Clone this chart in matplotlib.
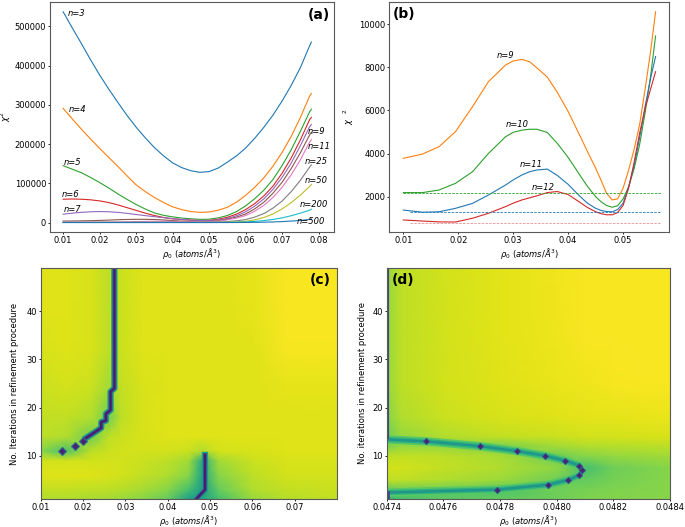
import numpy as np
import matplotlib as mpl
mpl.use('Agg')
import matplotlib.pyplot as plt

plt.rcParams['font.family'] = 'DejaVu Sans'
plt.rcParams['font.size'] = 6
plt.rcParams['axes.linewidth'] = 0.8
plt.rcParams['axes.edgecolor'] = '0.35'
plt.rcParams['xtick.major.size'] = 1.6
plt.rcParams['ytick.major.size'] = 1.6
plt.rcParams['xtick.major.pad'] = 1.2
plt.rcParams['ytick.major.pad'] = 1.2
plt.rcParams['xtick.major.width'] = 0.6
plt.rcParams['ytick.major.width'] = 0.6

# ---- panel (a): chi^2 vs rho0 for several n ----
xa = [0.0100, 0.0125, 0.0150, 0.0175, 0.0200, 0.0225, 0.0250, 0.0275, 0.0300, 0.0325,
      0.0350, 0.0375, 0.0400, 0.0425, 0.0450, 0.0475, 0.0500, 0.0525, 0.0550, 0.0575,
      0.0600, 0.0625, 0.0650, 0.0675, 0.0700, 0.0725, 0.0750, 0.0775, 0.0780]
a_n3 = [537000, 496000, 456000, 415000, 376000, 340000, 306000, 273000, 243000, 216000,
        191000, 170000, 152000, 140000, 132000, 128000, 130000, 139000, 154000, 170000,
        190000, 215000, 243000, 274000, 310000, 350000, 395000, 450000, 460000]
a_n4 = [291000, 264000, 238000, 213000, 189000, 166000, 143000, 119000, 96000, 79000,
        64000, 51000, 40000, 33000, 28000, 26000, 27000, 31500, 39000, 52000,
        69500, 90000, 114000, 144000, 179000, 220000, 268000, 322000, 329000]
a_n5 = [145000, 136000, 127000, 115000, 102000, 88000, 73000, 59000, 46000, 34500,
        24500, 18500, 14500, 11500, 9500, 8200, 8500, 12000, 18000, 28000,
        42600, 61000, 82700, 110000, 145500, 186000, 232700, 282000, 289000]
a_n6 = [59500, 60000, 59500, 58000, 55200, 51000, 45000, 38000, 31000, 24000,
        18000, 13000, 9500, 7500, 6000, 5100, 5500, 8500, 13500, 21500,
        33000, 48500, 68000, 93000, 126000, 165000, 211000, 262000, 268000]
a_n7 = [21300, 24000, 26000, 27500, 28000, 27500, 26000, 23500, 20500, 17700,
        15000, 12500, 10000, 8000, 6500, 5200, 5000, 7000, 10500, 17500,
        27500, 42000, 60500, 85000, 115300, 152000, 196000, 244000, 250000]
a_n9 = [3800, 4000, 4300, 4800, 5500, 6300, 7200, 7900, 8300, 8300,
        7800, 6600, 5000, 3600, 2500, 1900, 2500, 4500, 8500, 14000,
        22000, 35000, 52000, 75000, 103000, 138000, 178000, 223000, 230000]
a_n11 = [1400, 1350, 1300, 1300, 1350, 1500, 1700, 2050, 2500, 2900,
         3200, 3200, 2900, 2300, 1700, 1350, 1800, 3500, 7000, 11500,
         18000, 29000, 44000, 64000, 90000, 122000, 160000, 205000, 211000]
a_n25 = [500, 500, 500, 500, 500, 500, 500, 550, 600, 600,
         600, 550, 500, 450, 400, 400, 600, 1200, 2500, 4500,
         7500, 14000, 23000, 37000, 55000, 79000, 108000, 141000, 147000]
a_n50 = [300, 300, 300, 300, 300, 300, 300, 300, 300, 300,
         300, 300, 300, 300, 300, 300, 300, 500, 800, 1600,
         3000, 7000, 13000, 22000, 35000, 51000, 70000, 92000, 97000]
a_n200 = [200, 200, 200, 200, 200, 200, 200, 200, 200, 200,
          200, 200, 200, 200, 200, 200, 200, 250, 300, 700,
          1500, 3000, 5000, 8000, 12000, 17500, 24000, 31500, 34000]
a_n500 = [100, 100, 100, 100, 100, 100, 100, 100, 100, 100,
          100, 100, 100, 100, 100, 100, 100, 100, 100, 200,
          300, 600, 1000, 1600, 2500, 3800, 5500, 8000, 9000]
a_series = [a_n3, a_n4, a_n5, a_n6, a_n7, a_n9, a_n11, a_n25, a_n50, a_n200, a_n500]
a_names = ['n=3', 'n=4', 'n=5', 'n=6', 'n=7', 'n=9', 'n=11', 'n=25', 'n=50', 'n=200', 'n=500']

# ---- panel (b): zoom on n=9..12 ----
xb = [0.0100, 0.0135, 0.0165, 0.0195, 0.0226, 0.0255, 0.0286, 0.0300, 0.0316, 0.0330,
      0.0343, 0.0362, 0.0380, 0.0400, 0.0420, 0.0435, 0.0450, 0.0460, 0.0470, 0.0480,
      0.0490, 0.0500, 0.0510, 0.0520, 0.0530, 0.0540, 0.0550, 0.0559]
b_n9 = [3780, 3980, 4320, 5020, 6180, 7340, 8110, 8300, 8370, 8260,
        7980, 7550, 6850, 5950, 4900, 4100, 3320, 2750, 2150, 1850,
        1900, 2400, 3240, 4200, 5350, 7000, 8750, 10580]
b_n10 = [2190, 2190, 2310, 2620, 3160, 4010, 4780, 4990, 5090, 5130,
         5130, 4980, 4480, 3820, 3050, 2480, 2000, 1760, 1590, 1510,
         1580, 1900, 2460, 3300, 4420, 5900, 7600, 9460]
b_n11 = [1380, 1280, 1300, 1460, 1690, 2080, 2540, 2780, 3010, 3160,
         3240, 3280, 2990, 2570, 2050, 1700, 1460, 1360, 1310, 1300,
         1400, 1700, 2450, 3450, 4750, 6200, 7500, 8500]
b_n12 = [920, 870, 830, 825, 1000, 1230, 1540, 1700, 1850, 1950,
         2040, 2190, 2240, 2100, 1760, 1500, 1300, 1210, 1160, 1160,
         1260, 1600, 2400, 3600, 4950, 6100, 7000, 7800]
b_series = [b_n9, b_n10, b_n11, b_n12]
b_names = ['n=9', 'n=10', 'n=11', 'n=12']
b_colors = ['C1', 'C2', 'C0', 'C3']
b_ref_levels = [2186, 1290, 794]
b_ref_start = [0.0100, 0.0112, 0.0112]
b_ref_end = 0.0569

# ---- panel (c): normalised map, coarse grid ----
xc = [0.010, 0.016, 0.022, 0.026, 0.029, 0.034, 0.040, 0.045, 0.048, 0.052, 0.060, 0.068, 0.080]
yc = [1, 3, 6, 9, 11, 14, 18, 24, 32, 40, 49]
zc = [
    [0.88, 0.88, 0.87, 0.86, 0.85, 0.82, 0.76, 0.55, 0.58, 0.70, 0.84, 0.89, 0.91],
    [0.91, 0.91, 0.90, 0.90, 0.89, 0.87, 0.82, 0.70, 0.55, 0.76, 0.88, 0.91, 0.92],
    [0.95, 0.95, 0.95, 0.94, 0.93, 0.91, 0.88, 0.82, 0.60, 0.82, 0.90, 0.93, 0.93],
    [0.93, 0.93, 0.93, 0.93, 0.93, 0.92, 0.90, 0.86, 0.62, 0.86, 0.92, 0.94, 0.94],
    [0.82, 0.72, 0.90, 0.92, 0.93, 0.93, 0.93, 0.92, 0.88, 0.93, 0.94, 0.95, 0.95],
    [0.90, 0.88, 0.78, 0.90, 0.92, 0.94, 0.95, 0.95, 0.95, 0.95, 0.95, 0.95, 0.95],
    [0.91, 0.91, 0.88, 0.78, 0.90, 0.94, 0.95, 0.95, 0.95, 0.95, 0.95, 0.95, 0.95],
    [0.92, 0.93, 0.92, 0.86, 0.91, 0.94, 0.95, 0.95, 0.95, 0.95, 0.95, 0.96, 0.96],
    [0.94, 0.95, 0.94, 0.90, 0.92, 0.95, 0.95, 0.95, 0.95, 0.95, 0.95, 0.985, 0.985],
    [0.95, 0.95, 0.94, 0.90, 0.92, 0.95, 0.95, 0.95, 0.95, 0.95, 0.96, 0.99, 0.99],
    [0.95, 0.95, 0.94, 0.90, 0.92, 0.95, 0.95, 0.95, 0.95, 0.95, 0.96, 0.99, 0.99],
]
# minimum tracks in (c)
c_dot_x = [0.0150, 0.0182, 0.0200]
c_dot_y = [11, 12, 13]
c_up_x = [0.0207, 0.0233, 0.0243, 0.0243, 0.0254, 0.0254, 0.0265, 0.0265, 0.0274, 0.0274]
c_up_y = [13.7, 15.2, 15.8, 17.0, 17.3, 18.7, 19.5, 23.3, 24.0, 49.0]
c_low_x = [0.0467, 0.0488, 0.0488]
c_low_y = [1.0, 3.0, 10.2]

# ---- panel (d): zoom around rho0 = 0.048 ----
xd = [0.04740, 0.04745, 0.04760, 0.04780, 0.04800, 0.04810, 0.04820, 0.04840]
yd = [1, 2.5, 5, 7.5, 10, 12, 14, 18, 25, 35, 49]
zd = [
    [0.66, 0.70, 0.74, 0.76, 0.78, 0.80, 0.81, 0.82],
    [0.72, 0.75, 0.76, 0.72, 0.78, 0.80, 0.81, 0.82],
    [0.90, 0.90, 0.88, 0.85, 0.78, 0.76, 0.79, 0.82],
    [0.93, 0.93, 0.91, 0.88, 0.83, 0.70, 0.78, 0.82],
    [0.90, 0.91, 0.90, 0.87, 0.78, 0.82, 0.84, 0.86],
    [0.80, 0.84, 0.84, 0.80, 0.86, 0.88, 0.89, 0.90],
    [0.78, 0.84, 0.88, 0.91, 0.92, 0.93, 0.93, 0.94],
    [0.82, 0.88, 0.92, 0.94, 0.95, 0.96, 0.96, 0.97],
    [0.84, 0.90, 0.93, 0.95, 0.965, 0.975, 0.985, 0.99],
    [0.84, 0.90, 0.93, 0.955, 0.975, 0.99, 0.99, 0.99],
    [0.84, 0.90, 0.93, 0.955, 0.98, 0.99, 0.99, 0.99],
]
d_dot_x = [0.04754, 0.04773, 0.04786, 0.04796, 0.04803, 0.04808, 0.04809, 0.04808,
           0.04804, 0.04797, 0.04779]
d_dot_y = [13, 12, 11, 10, 9, 8, 7, 6, 5, 4, 3]
d_valley_x = [0.04740] + d_dot_x + [0.04740]
d_valley_y = [13.4] + d_dot_y + [2.4]

vir = plt.get_cmap('viridis')

fig = plt.figure(figsize=(6.85, 5.27), dpi=100)
ax_a = fig.add_axes([0.073, 0.5598, 0.4146, 0.4364])
ax_b = fig.add_axes([0.5683, 0.5598, 0.4088, 0.4364])
ax_c = fig.add_axes([0.0594, 0.0526, 0.4321, 0.4395])
ax_d = fig.add_axes([0.5645, 0.0526, 0.4136, 0.4395])

rho_label = r'$\rho_0\ (atoms/\AA^3)$'

# (a)
for i, ys in enumerate(a_series):
    ax_a.plot(xa, ys, color='C%d' % (i % 10), lw=0.8)
a_label_pos = [(0.0112, 533000), (0.0114, 287000), (0.0102, 153000), (0.0097, 70500),
               (0.0102, 34000), (0.0771, 231500), (0.0771, 193000), (0.0762, 155000),
               (0.0762, 106000), (0.0747, 47000), (0.0740, 2000)]
for name, (tx, ty) in zip(a_names, a_label_pos):
    ax_a.text(tx, ty, name, style='italic', ha='left', va='center', fontsize=6)
ax_a.set_xlim(0.0064, 0.0842)
ax_a.set_ylim(-24000, 562000)
ax_a.set_xticks([0.01, 0.02, 0.03, 0.04, 0.05, 0.06, 0.07, 0.08])
ax_a.set_xlabel(rho_label, labelpad=1)
ax_a.set_ylabel(r'$\chi^2$', labelpad=1)
ax_a.text(0.986, 0.975, '(a)', transform=ax_a.transAxes, ha='right', va='top',
          fontsize=10, fontweight='bold')

# (b)
for ys, col in zip(b_series, b_colors):
    ax_b.plot(xb, ys, color=col, lw=0.8)
for lvl, x0, col, al in zip(b_ref_levels, b_ref_start, ['C2', 'C0', 'C3'], [1, 1, 0.5]):
    ax_b.plot([x0, b_ref_end], [lvl, lvl], ls='--', lw=0.6, color=col, alpha=al,
              dashes=(3, 1.5))
b_label_pos = [(0.0270, 8575), (0.0287, 5327), (0.0312, 3517), (0.0334, 2418)]
for name, (tx, ty) in zip(b_names, b_label_pos):
    ax_b.text(tx, ty, name, style='italic', ha='left', va='center', fontsize=6)
ax_b.set_xlim(0.00745, 0.0584)
ax_b.set_ylim(362, 11035)
ax_b.set_xticks([0.01, 0.02, 0.03, 0.04, 0.05])
ax_b.set_yticks([2000, 4000, 6000, 8000, 10000])
ax_b.set_xlabel(rho_label, labelpad=1)
ax_b.set_ylabel(r'$\chi^{\ \ \ 2}$', labelpad=2)
ax_b.text(0.012, 0.98, '(b)', transform=ax_b.transAxes, ha='left', va='top',
          fontsize=10, fontweight='bold')

# (c)
ax_c.pcolormesh(xc, yc, zc, shading='gouraud', cmap='viridis', vmin=0, vmax=1)
for xs, ys in [(c_up_x, c_up_y), (c_low_x, c_low_y)]:
    ax_c.plot(xs, ys, color=vir(0.55), lw=4.5, solid_joinstyle='round')
    ax_c.plot(xs, ys, color=vir(0.28), lw=2.8, solid_joinstyle='round')
    ax_c.plot(xs, ys, color=vir(0.08), lw=1.6, solid_joinstyle='round')
ax_c.plot(c_dot_x, c_dot_y, 'D', ms=4.2, mfc=vir(0.1), mec=vir(0.35), mew=0.8)
ax_c.set_xlim(0.01, 0.0799)
ax_c.set_ylim(1, 49)
ax_c.set_xticks([0.01, 0.02, 0.03, 0.04, 0.05, 0.06, 0.07])
ax_c.set_yticks([10, 20, 30, 40])
ax_c.set_xlabel(rho_label, labelpad=0.5)
ax_c.set_ylabel('No. Iterations in refinement procedure', labelpad=5)
ax_c.text(0.981, 0.976, '(c)', transform=ax_c.transAxes, ha='right', va='top',
          fontsize=10, fontweight='bold')

# (d)
ax_d.pcolormesh(xd, yd, zd, shading='gouraud', cmap='viridis', vmin=0, vmax=1)
for lw, v in [(6, 0.74), (3.6, 0.64), (1.6, 0.52)]:
    ax_d.plot(d_valley_x, d_valley_y, color=vir(v), lw=lw, solid_joinstyle='round',
              solid_capstyle='butt')
ax_d.plot(d_dot_x, d_dot_y, 'D', ms=3.3, mfc=vir(0.1), mec=vir(0.3), mew=0.6)
ax_d.plot([0.04740, 0.04740], [14, 49], color=vir(0.22), lw=3)
ax_d.plot([0.04740, 0.04740], [1, 2.4], color=vir(0.22), lw=3.5)
ax_d.set_xlim(0.0474, 0.0484)
ax_d.set_ylim(1, 49)
ax_d.set_xticks([0.0474, 0.0476, 0.0478, 0.0480, 0.0482, 0.0484])
ax_d.set_xticklabels(['0.0474', '0.0476', '0.0478', '0.0480', '0.0482', '0.0484'])
ax_d.set_yticks([10, 20, 30, 40])
ax_d.set_xlabel(rho_label, labelpad=0.5)
ax_d.set_ylabel('No. iterations in refinement procedure', labelpad=4)
ax_d.text(0.018, 0.976, '(d)', transform=ax_d.transAxes, ha='left', va='top',
          fontsize=10, fontweight='bold')

fig.savefig('out.png', dpi=100)
